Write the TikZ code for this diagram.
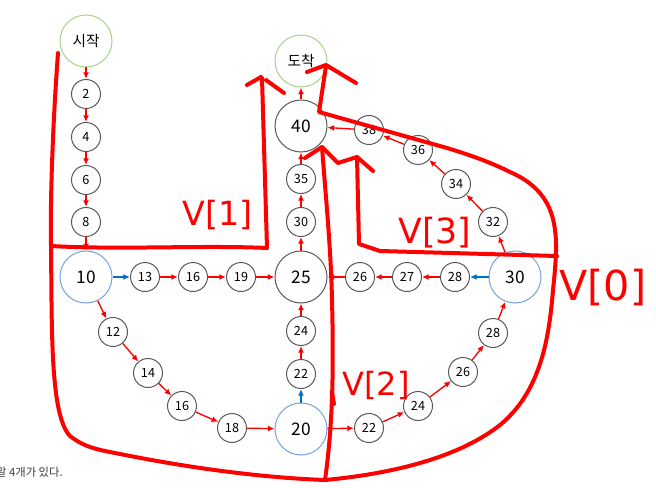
\documentclass[tikz,border=0pt]{standalone}
\usepackage{fontspec}
\setmainfont{Noto Sans CJK KR}
\newfontfamily\penfont{DejaVu Sans}
\usetikzlibrary{arrows.meta,positioning}
\definecolor{arrowred}{RGB}{255,0,0}
\definecolor{arrowblue}{RGB}{0,112,192}
\definecolor{ringgray}{RGB}{89,89,89}
\definecolor{ringblue}{RGB}{120,160,222}
\definecolor{ringgreen}{RGB}{169,209,142}
\definecolor{penred}{RGB}{255,0,0}
\definecolor{notegray}{RGB}{60,60,60}

\begin{document}
\begin{tikzpicture}[x=0.75pt,y=-0.75pt,
    station/.style={circle,draw=ringgray,line width=0.75pt,minimum size=21.75pt,
        inner sep=0pt,font=\fontsize{9.5}{10}\selectfont},
    hub/.style={station,minimum size=39pt,font=\fontsize{13}{14}\selectfont},
    junction/.style={hub,draw=ringblue},
    terminal/.style={hub,draw=ringgreen,font=\fontsize{11}{12}\selectfont},
    move/.style={-{Latex[length=5pt,width=4.5pt]},draw=arrowred,line width=1pt},
    shortcut/.style={move,draw=arrowblue},
    pen/.style={draw=penred,line width=3pt,line cap=round,line join=round},
    marker/.style={text=penred,inner sep=0pt}
]
\useasboundingbox (0,0) rectangle (656,488);

% Start column
\node[terminal] (start) at (86,41) {시작};
\node[station] (s2) at (86,94) {2};
\node[station] (s4) at (86,137) {4};
\node[station] (s6) at (86,180) {6};
\node[station] (s8) at (86,222) {8};

% Middle row
\node[junction] (n10) at (86,277) {10};
\node[station] (r13) at (145,277) {13};
\node[station] (r16) at (193,277) {16};
\node[station] (r19) at (241,277) {19};
\node[hub] (n25) at (301,277) {25};

% Lower left diagonal
\node[station] (l12) at (113,332) {12};
\node[station] (l14) at (148,373) {14};
\node[station] (l16) at (182,406) {16};
\node[station] (l18) at (232,428) {18};
\node[junction] (n20) at (301,429) {20};

% Centre column
\node[station] (c22) at (301,374) {22};
\node[station] (c24) at (301,331) {24};
\node[station] (c30) at (301,222) {30};
\node[station] (c35) at (301,179) {35};
\node[hub] (n40) at (301,126) {40};
\node[terminal] (goal) at (301,61) {도착};

% Right side
\node[junction] (n30) at (515,277) {30};
\node[station] (h28) at (455,277) {28};
\node[station] (h27) at (407,277) {27};
\node[station] (h26) at (360,277) {26};
\node[station] (u32) at (493,222) {32};
\node[station] (u34) at (456,184) {34};
\node[station] (u36) at (418,150) {36};
\node[station] (u38) at (369,130) {38};
\node[station] (d22) at (369,428) {22};
\node[station] (d24) at (418,406) {24};
\node[station] (d26) at (463,372) {26};
\node[station] (d28) at (493,333) {28};

% Moves
\foreach \a/\b in {start/s2,s2/s4,s4/s6,s6/s8,s8/n10,
    r13/r16,r16/r19,r19/n25,
    n10/l12,l12/l14,l14/l16,l16/l18,l18/n20,
    c22/c24,c24/n25,n25/c30,c30/c35,c35/n40,n40/goal,
    h28/h27,h27/h26,h26/n25,
    n20/d22,d22/d24,d24/d26,d26/d28,d28/n30,
    n30/u32,u32/u34,u34/u36,u36/u38,u38/n40}
    \draw[move] (\a) -- (\b);
\draw[shortcut] (n10) -- (r13);
\draw[shortcut] (n20) -- (c22);
\draw[shortcut] (n30) -- (h28);

% Pen marks
\draw[pen] (58,53) .. controls (53,120) and (50,200) .. (51,246)
    .. controls (52,330) and (50,415) .. (70,436)
    .. controls (85,448) and (100,450) .. (120,454)
    .. controls (200,470) and (270,478) .. (325,480)
    .. controls (400,473) and (462,455) .. (500,425)
    .. controls (540,392) and (549,340) .. (553,290)
    .. controls (556,262) and (557,245) .. (555,230)
    .. controls (552,205) and (540,185) .. (510,172)
    .. controls (490,162) and (470,155) .. (447,148)
    -- (319,112) -- (326,66);
\draw[pen] (307,72) -- (326,65) -- (356,83);
\draw[pen] (51,246) .. controls (120,250) and (200,245) .. (267,248) -- (262,78);
\draw[pen] (247,85) -- (261,77);
\draw[pen] (266,80) -- (284,93);
\draw[pen] (305,158) -- (322,147) -- (338,163) -- (357,157) -- (373,171);
\draw[pen] (322,147) .. controls (326,200) and (331,250) .. (332,300)
    .. controls (334,380) and (332,430) .. (325,480);
\draw[pen] (332,392) -- (334,404);
\draw[pen] (357,157) -- (359,244) -- (380,251) -- (557,256);

% Labels
\node[marker,font=\penfont\fontsize{25}{25}\selectfont] (v1) at (218,215) {V[1]};
\node[marker,font=\penfont\fontsize{26}{26}\selectfont] (v3) at (435,233) {V[3]};
\node[marker,font=\penfont\fontsize{24}{24}\selectfont] (v2) at (376,385) {V[2]};
\node[marker,font=\penfont\fontsize{31}{31}\selectfont] (v0) at (603,288) {V[0]};

% Note line, cut at the left edge as in the screenshot
\node[anchor=east,inner sep=0pt,text=notegray,font=\fontsize{8.5}{10}\selectfont] (note) at (63,472) {말 4개가 있다.};
\end{tikzpicture}
\end{document}
